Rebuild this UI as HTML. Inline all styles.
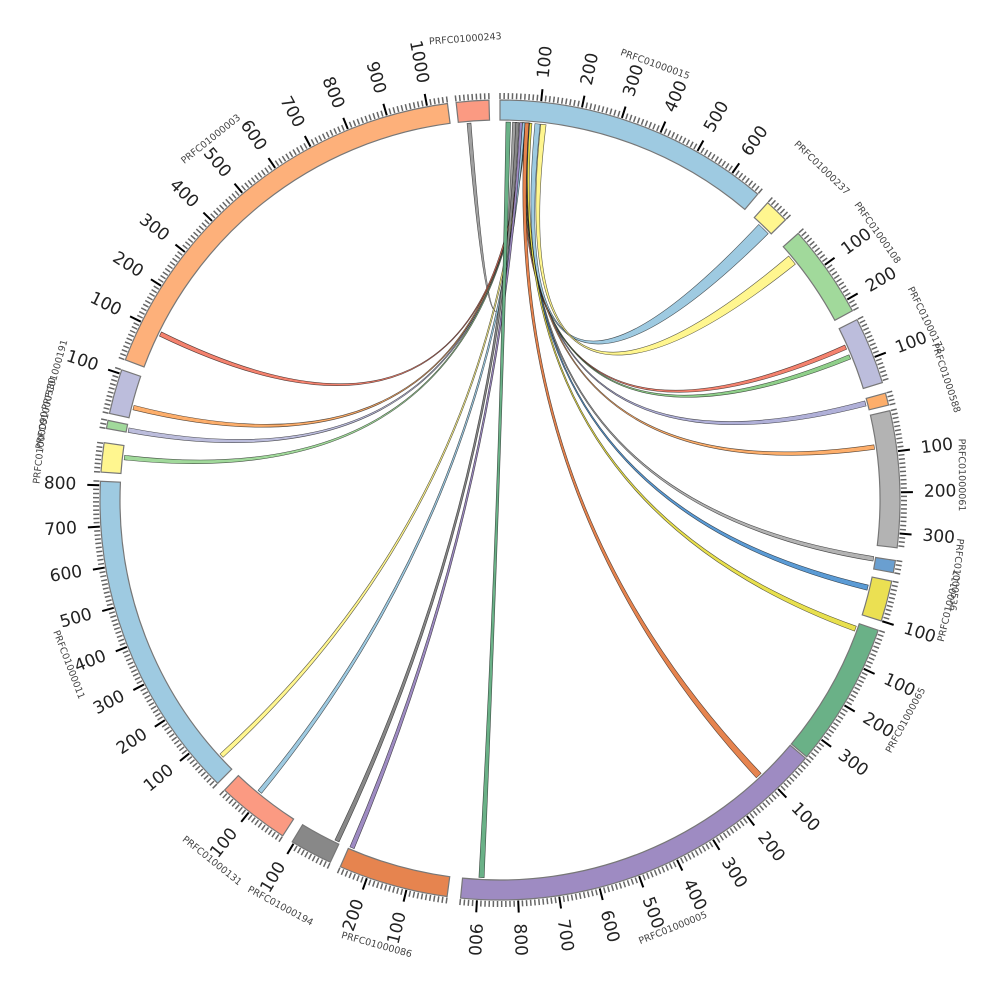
<!DOCTYPE html>
<html><head><meta charset="utf-8">
<style>
html,body{margin:0;padding:0;background:#fff;}
svg{display:block;}
.tl{font-family:"DejaVu Sans","Liberation Sans",sans-serif;font-size:17px;fill:#222;dominant-baseline:central;}
.nl{font-family:"DejaVu Sans","Liberation Sans",sans-serif;font-size:9.5px;fill:#444;text-anchor:middle;dominant-baseline:central;}
</style></head><body>
<svg id="s" width="1000" height="1000" viewBox="0 0 1000 1000" xmlns="http://www.w3.org/2000/svg">
<g id="chords"></g>
<g id="segs"></g>
<g id="ticks"></g>
<g id="labels">
<!-- tick labels right side: rotate(a) translate(500 77) rotate(-90), anchor start -->
<g text-anchor="start">
<text class="tl" transform="rotate(5.9 500 500) translate(500 76) rotate(-90)">100</text>
<text class="tl" transform="rotate(11.8 500 500) translate(500 76) rotate(-90)">200</text>
<text class="tl" transform="rotate(17.7 500 500) translate(500 76) rotate(-90)">300</text>
<text class="tl" transform="rotate(23.6 500 500) translate(500 76) rotate(-90)">400</text>
<text class="tl" transform="rotate(29.5 500 500) translate(500 76) rotate(-90)">500</text>
<text class="tl" transform="rotate(35.4 500 500) translate(500 76) rotate(-90)">600</text>
<text class="tl" transform="rotate(54.1 500 500) translate(500 76) rotate(-90)">100</text>
<text class="tl" transform="rotate(60.0 500 500) translate(500 76) rotate(-90)">200</text>
<text class="tl" transform="rotate(69.1 500 500) translate(500 76) rotate(-90)">100</text>
<text class="tl" transform="rotate(83.0 500 500) translate(500 76) rotate(-90)">100</text>
<text class="tl" transform="rotate(88.9 500 500) translate(500 76) rotate(-90)">200</text>
<text class="tl" transform="rotate(94.8 500 500) translate(500 76) rotate(-90)">300</text>
<text class="tl" transform="rotate(107.6 500 500) translate(500 76) rotate(-90)">100</text>
<text class="tl" transform="rotate(114.9 500 500) translate(500 76) rotate(-90)">100</text>
<text class="tl" transform="rotate(120.8 500 500) translate(500 76) rotate(-90)">200</text>
<text class="tl" transform="rotate(126.7 500 500) translate(500 76) rotate(-90)">300</text>
<text class="tl" transform="rotate(136.1 500 500) translate(500 76) rotate(-90)">100</text>
<text class="tl" transform="rotate(142.0 500 500) translate(500 76) rotate(-90)">200</text>
<text class="tl" transform="rotate(147.9 500 500) translate(500 76) rotate(-90)">300</text>
<text class="tl" transform="rotate(153.8 500 500) translate(500 76) rotate(-90)">400</text>
<text class="tl" transform="rotate(159.7 500 500) translate(500 76) rotate(-90)">500</text>
<text class="tl" transform="rotate(165.6 500 500) translate(500 76) rotate(-90)">600</text>
<text class="tl" transform="rotate(171.5 500 500) translate(500 76) rotate(-90)">700</text>
<text class="tl" transform="rotate(177.4 500 500) translate(500 76) rotate(-90)">800</text>
<text class="tl" transform="rotate(183.3 500 500) translate(500 76) rotate(-90)">900</text>
</g>
<g text-anchor="end">
<text class="tl" transform="rotate(193.5 500 500) translate(500 76) rotate(90)">100</text>
<text class="tl" transform="rotate(199.4 500 500) translate(500 76) rotate(90)">200</text>
<text class="tl" transform="rotate(211.0 500 500) translate(500 76) rotate(90)">100</text>
<text class="tl" transform="rotate(218.8 500 500) translate(500 76) rotate(90)">100</text>
<text class="tl" transform="rotate(230.8 500 500) translate(500 76) rotate(90)">100</text>
<text class="tl" transform="rotate(236.7 500 500) translate(500 76) rotate(90)">200</text>
<text class="tl" transform="rotate(242.6 500 500) translate(500 76) rotate(90)">300</text>
<text class="tl" transform="rotate(248.5 500 500) translate(500 76) rotate(90)">400</text>
<text class="tl" transform="rotate(254.4 500 500) translate(500 76) rotate(90)">500</text>
<text class="tl" transform="rotate(260.3 500 500) translate(500 76) rotate(90)">600</text>
<text class="tl" transform="rotate(266.2 500 500) translate(500 76) rotate(90)">700</text>
<text class="tl" transform="rotate(272.1 500 500) translate(500 76) rotate(90)">800</text>
<text class="tl" transform="rotate(288.4 500 500) translate(500 76) rotate(90)">100</text>
<text class="tl" transform="rotate(296.4 500 500) translate(500 76) rotate(90)">100</text>
<text class="tl" transform="rotate(302.3 500 500) translate(500 76) rotate(90)">200</text>
<text class="tl" transform="rotate(308.2 500 500) translate(500 76) rotate(90)">300</text>
<text class="tl" transform="rotate(314.1 500 500) translate(500 76) rotate(90)">400</text>
<text class="tl" transform="rotate(320.0 500 500) translate(500 76) rotate(90)">500</text>
<text class="tl" transform="rotate(325.9 500 500) translate(500 76) rotate(90)">600</text>
<text class="tl" transform="rotate(331.8 500 500) translate(500 76) rotate(90)">700</text>
<text class="tl" transform="rotate(337.7 500 500) translate(500 76) rotate(90)">800</text>
<text class="tl" transform="rotate(343.6 500 500) translate(500 76) rotate(90)">900</text>
<text class="tl" transform="rotate(349.5 500 500) translate(500 76) rotate(90)">1000</text>
</g>
<!-- name labels -->
<text class="nl" transform="rotate(355.7 500 500) translate(500 38) rotate(0)">PRFC01000243</text>
<text class="nl" transform="rotate(19.6 500 500) translate(500 38) rotate(0)">PRFC01000015</text>
<text class="nl" transform="rotate(44.1 500 500) translate(500 38) rotate(0)">PRFC01000237</text>
<text class="nl" transform="rotate(54.7 500 500) translate(500 38) rotate(0)">PRFC01000108</text>
<text class="nl" transform="rotate(67.1 500 500) translate(500 38) rotate(-3)">PRFC01000172</text>
<text class="nl" transform="rotate(74.7 500 500) translate(500 38) rotate(-3)">PRFC01000588</text>
<text class="nl" transform="rotate(86.9 500 500) translate(500 38) rotate(3)">PRFC01000061</text>
<text class="nl" transform="rotate(99.3 500 500) translate(500 38) rotate(-3)">PRFC01000536</text>
<text class="nl" transform="rotate(103.3 500 500) translate(500 38) rotate(180)">PRFC01000117</text>
<text class="nl" transform="rotate(118.5 500 500) translate(500 38) rotate(180)">PRFC01000065</text>
<text class="nl" transform="rotate(158 500 500) translate(500 38) rotate(180)">PRFC01000005</text>
<text class="nl" transform="rotate(195.5 500 500) translate(500 38) rotate(180)">PRFC01000086</text>
<text class="nl" transform="rotate(208.4 500 500) translate(500 38) rotate(180)">PRFC01000194</text>
<text class="nl" transform="rotate(218.6 500 500) translate(500 38) rotate(180)">PRFC01000131</text>
<text class="nl" transform="rotate(249.1 500 500) translate(500 38) rotate(180)">PRFC01000011</text>
<text class="nl" transform="rotate(276.5 500 500) translate(500 38) rotate(0)">PRFC01000090</text>
<text class="nl" transform="rotate(280.8 500 500) translate(500 38) rotate(0)">PRFC01000580</text>
<text class="nl" transform="rotate(285.7 500 500) translate(500 38) rotate(0)">PRFC01000191</text>
<text class="nl" transform="rotate(321.3 500 500) translate(500 38) rotate(0)">PRFC01000003</text>
</g>
</svg>
<script>
(function(){
var NS="http://www.w3.org/2000/svg",C=500,S=0.059;
function P(r,a){a=a*Math.PI/180;return [C+r*Math.sin(a),C-r*Math.cos(a)];}
function f(p){return p[0].toFixed(2)+" "+p[1].toFixed(2);}
function el(tag,attrs,parent){var e=document.createElementNS(NS,tag);for(var k in attrs)e.setAttribute(k,attrs[k]);parent.appendChild(e);return e;}
var segs=[
[0,680,"#9ecae1"],[42.0,60,"#fff68f"],[48.2,230,"#a1d99b"],[63.2,165,"#bcbddc"],[74.5,30,"#fdae6b"],
[77.1,335,"#b3b3b3"],[98.7,30,"#6a9fd0"],[101.7,100,"#ebe052"],[109.0,355,"#6ab187"],[130.2,940,"#9e8bc2"],
[187.6,270,"#e6844f"],[205.1,105,"#888888"],[212.9,180,"#fb9a82"],[224.9,810,"#9ecae1"],[274,72,"#fff68f"],
[280.3,20,"#a1d99b"],[282.5,110,"#bcbddc"],[290.5,1050,"#fdb07a"],[353.7,80,"#fb9a82"]];
var gs=document.getElementById("segs"),gt=document.getElementById("ticks"),gc=document.getElementById("chords");
segs.forEach(function(s){
 var a0=s[0],a1=s[0]+s[1]*S,lg=(a1-a0)>180?1:0;
 var d="M"+f(P(400,a0))+" A400 400 0 "+lg+" 1 "+f(P(400,a1))+" L"+f(P(380,a1))+" A380 380 0 "+lg+" 0 "+f(P(380,a0))+" Z";
 el("path",{d:d,fill:s[2],stroke:"#777","stroke-width":1.2},gs);
 for(var v=0;v<=s[1];v+=10){
  var a=a0+v*S,maj=(v%100==0&&v>0);
  var p1=P(401,a),p2=P(maj?413:407,a);
  el("line",{x1:p1[0],y1:p1[1],x2:p2[0],y2:p2[1],stroke:maj?"#000":"#666","stroke-width":maj?2:1.5},gt);
 }
});
var R=378;
function rib(s0,s1,t0,t1,col){
 var d="M"+f(P(R,s0))+" A"+R+" "+R+" 0 0 1 "+f(P(R,s1))+" Q"+C+" "+C+" "+f(P(R,t0))+" A"+R+" "+R+" 0 0 1 "+f(P(R,t1))+" Q"+C+" "+C+" "+f(P(R,s0))+" Z";
 el("path",{d:d,fill:col,stroke:"rgba(0,0,0,0.65)","stroke-width":0.6},gc);
}
var ch=[
[355.0,355.6,1.9,2.5,"#a0a0a0"],
[3.8,4.1,65.8,66.5,"#f4826e"],
[4.0,4.3,67.4,68.1,"#8fcf8a"],
[4.1,4.4,74.8,75.6,"#b0b0d8"],
[4.2,4.5,81.6,82.3,"#fdae6b"],
[4.3,4.6,98.6,99.3,"#b3b3b3"],
[4.4,4.7,103.0,103.8,"#5b9bd5"],
[4.5,4.85,109.5,110.3,"#e8e04e"],
[3.7,4.0,276.1,276.8,"#a1d99b"],
[3.6,3.9,280.3,281.0,"#bcbddc"],
[3.5,3.8,283.8,284.5,"#fdae6b"],
[3.4,3.7,295.7,296.4,"#f4826e"],
[3.3,3.6,227.1,227.8,"#fff68f"],
[3.4,3.8,219.1,219.8,"#9ecae1"],
[2.4,2.9,205.2,205.9,"#888888"],
[3.0,3.4,202.7,203.4,"#9e8bc2"],
[3.8,4.4,136.3,137.3,"#e6844f"],
[0.9,1.6,182.4,183.2,"#6ab187"],
[5.3,6.1,43.2,45.2,"#9ecae1"],
[6.2,7.0,49.8,51.4,"#fff68f"]
];
ch.forEach(function(c){rib(c[0],c[1],c[2],c[3],c[4]);});
})();
</script>
</body></html>
